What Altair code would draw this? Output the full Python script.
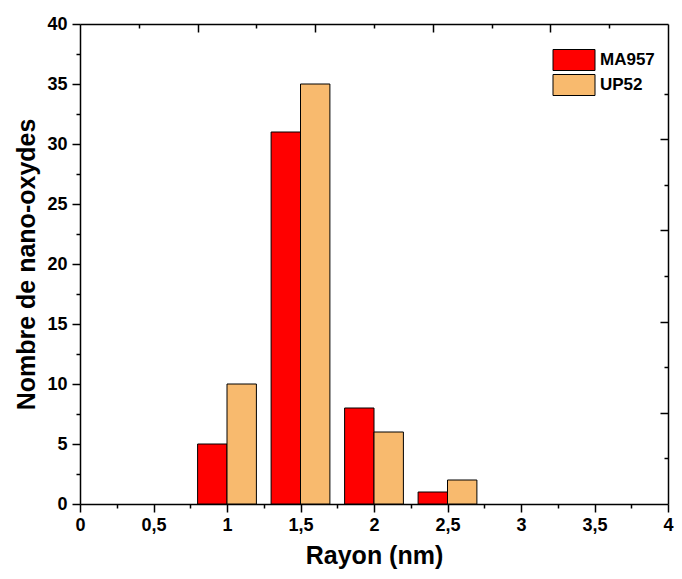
import altair as alt
import pandas as pd

# ---- data ----
radius = [1.0, 1.5, 2.0, 2.5]
ma957 = [5, 31, 8, 1]
up52 = [10, 35, 6, 2]
series = ["MA957", "UP52"]
colors = ["#FF0000", "#F8BA6E"]

x_major = [0, 0.5, 1, 1.5, 2, 2.5, 3, 3.5, 4]
x_minor = [0.25, 0.75, 1.25, 1.75, 2.25, 2.75, 3.25, 3.75]
y_major = [0, 5, 10, 15, 20, 25, 30, 35, 40]
y_minor = [2.5, 7.5, 12.5, 17.5, 22.5, 27.5, 32.5, 37.5]
top_major = [0.8, 1.6, 2.4, 3.2]
top_minor = [0.4, 1.2, 2.0, 2.8, 3.6]
right_major = [7.6, 15.2, 22.8, 30.4]
right_minor = [3.8, 11.4, 19.0, 26.6, 34.2]

W, H = 588, 480
FONT = "Liberation Sans"
BAR_W = 0.2

rows = []
for r, a, b in zip(radius, ma957, up52):
    rows.append({"serie": series[0], "rayon": r, "n": a})
    rows.append({"serie": series[1], "rayon": r, "n": b})
df = pd.DataFrame(rows)

base = alt.Chart(df).transform_calculate(
    x0=f"datum.serie == '{series[0]}' ? datum.rayon - {BAR_W} : datum.rayon"
).transform_calculate(
    x1=f"datum.x0 + {BAR_W}"
)

xs = alt.Scale(domain=[0, 4], nice=False, zero=False, padding=0)
ys = alt.Scale(domain=[0, 40], nice=False, zero=False, padding=0)
lab = "replace(toString(datum.value), '.', ',')"

common = dict(grid=False, tickColor="black", domainColor="black",
              tickWidth=1.5, domainWidth=1.5)


def tick_axis(vals, size, orient, offset=0, domain=False):
    return alt.Axis(values=vals, tickSize=size, labels=False, title="",
                    domain=domain, orient=orient, offset=offset, **common)


bars = base.mark_bar(stroke="black", strokeWidth=1).encode(
    x=alt.X("x0:Q", scale=xs, axis=alt.Axis(
        values=x_major, labelExpr=lab, tickSize=8, orient="bottom", offset=0,
        labelFont=FONT, labelFontSize=18, labelFontWeight="bold", labelColor="black",
        labelPadding=4, labelFlush=False, labelOverlap=False, labelBound=False,
        title="Rayon (nm)", titleFont=FONT, titleFontSize=25, titleFontWeight="bold",
        titleColor="black", titlePadding=9, **common)),
    x2="x1:Q",
    y=alt.Y("n:Q", scale=ys, axis=alt.Axis(
        values=y_major, tickSize=8, orient="left", offset=0,
        labelFont=FONT, labelFontSize=18, labelFontWeight="bold", labelColor="black",
        labelPadding=5, labelFlush=False, labelOverlap=False,
        title="Nombre de nano-oxydes", titleFont=FONT, titleFontSize=25,
        titleFontWeight="bold", titleColor="black", titlePadding=7, **common)),
    y2=alt.datum(0),
    color=alt.Color("serie:N", title=None,
                    scale=alt.Scale(domain=series, range=colors),
                    legend=alt.Legend(
                        orient="none", legendX=483, legendY=25, padding=0,
                        symbolType="M-2,-1H2V1H-2Z", symbolSize=441,
                        symbolStrokeColor="black", symbolStrokeWidth=1,
                        symbolOpacity=1, labelFont=FONT, labelFontSize=17,
                        labelFontWeight="bold", labelColor="black",
                        labelOffset=15, rowPadding=-1)),
)


def ghost(xaxis, yaxis):
    return base.mark_point(opacity=0).encode(
        x=alt.X("x0:Q", scale=xs, axis=xaxis),
        y=alt.Y("n:Q", scale=ys, axis=yaxis),
    )


minor = ghost(tick_axis(x_minor, 4, "bottom"), tick_axis(y_minor, 4, "left"))
frame_major = ghost(tick_axis(top_major, 8, "bottom", offset=-H, domain=True),
                    tick_axis(right_major, 8, "left", offset=-W, domain=True))
frame_minor = ghost(tick_axis(top_minor, 4, "bottom", offset=-H),
                    tick_axis(right_minor, 4, "left", offset=-W))

chart = alt.layer(bars, minor, frame_major, frame_minor).resolve_axis(
    x="independent", y="independent"
).properties(
    width=W, height=H,
    autosize=alt.AutoSizeParams(type="none"),
    padding={"left": 72, "top": 16, "right": 6, "bottom": 67},
    background="white",
).configure_view(strokeWidth=0)

chart.save("out.html", embed_options={"renderer": "svg", "actions": False})
